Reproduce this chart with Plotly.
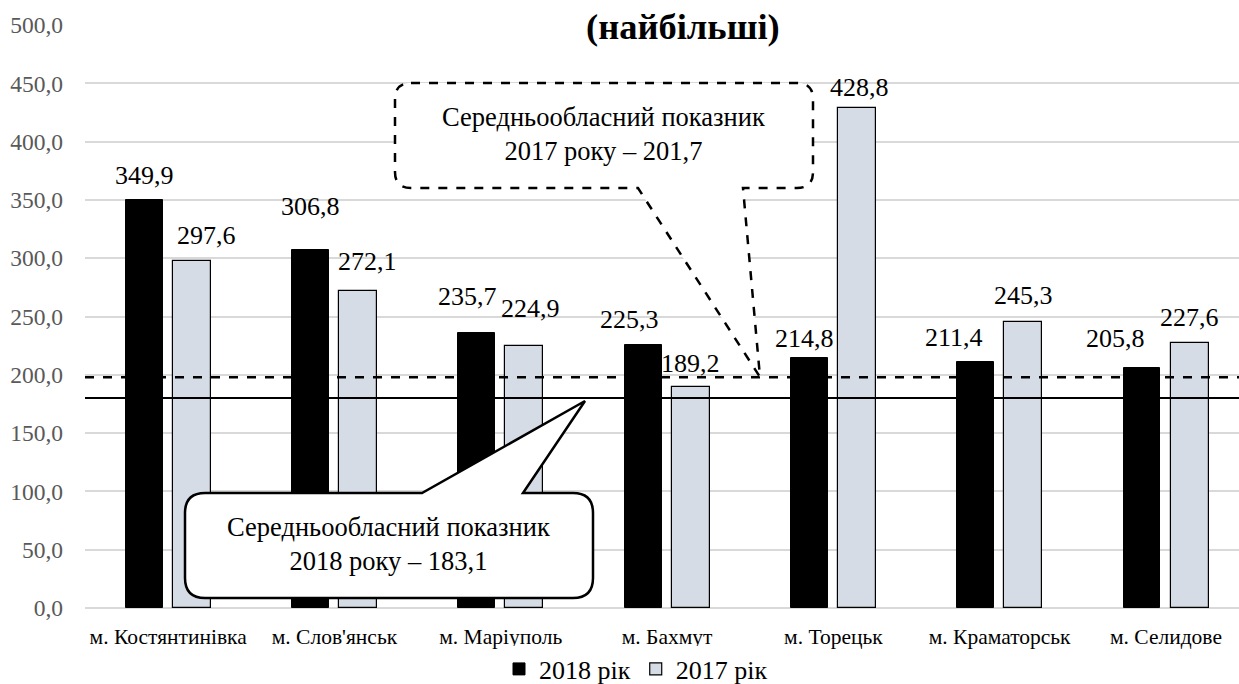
import plotly.graph_objects as go

# ---- data ----
categories = ["м. Костянтинівка", "м. Слов'янськ", "м. Маріуполь", "м. Бахмут",
              "м. Торецьк", "м. Краматорськ", "м. Селидове"]
values_2018 = [349.9, 306.8, 235.7, 225.3, 214.8, 211.4, 205.8]
values_2017 = [297.6, 272.1, 224.9, 189.2, 428.8, 245.3, 227.6]
series_names = ["2018 рік", "2017 рік"]
avg_line_2017 = 198.0   # dashed line as drawn
avg_line_2018 = 180.0   # solid line as drawn
callout_2017 = "Середньообласний показник<br>2017 року – 201,7"
callout_2018 = "Середньообласний показник<br>2018 року – 183,1"
title_text = "(найбільші)"
y_tickvals = [0, 50, 100, 150, 200, 250, 300, 350, 400, 450, 500]
y_ticktext = ["0,0", "50,0", "100,0", "150,0", "200,0", "250,0", "300,0",
              "350,0", "400,0", "450,0", "500,0"]

# ---- label placement tweaks (px) ----
lab_dx_2018 = [0, 0, -9, -14, -5, -22, -27]
lab_dy_2018 = [25, 44, 37, 26, 19, 24, 30]
lab_dx_2017 = [15, 9, 6, 0, 3, 0, 0]
lab_dy_2017 = [26, 29, 37, 24, 21, 26, 25]

W, H = 1239, 684
ML, MR, MT, MB = 85, 0, 25, 76
PW, PH = W - ML - MR, H - MT - MB
CAT_PX = 166.3
FONT = "Liberation Serif"

def fmt(v):
    return f"{v:.1f}".replace(".", ",")

def px2paper(x, y):
    return (x - ML) / PW, (H - MB - y) / PH

idx = list(range(len(categories)))

fig = go.Figure()
fig.add_trace(go.Bar(
    x=idx, y=values_2018, name=series_names[0],
    width=0.222, offset=-0.255,
    marker=dict(color="black", line=dict(color="black", width=1)),
))
fig.add_trace(go.Bar(
    x=idx, y=values_2017, name=series_names[1],
    width=0.228, offset=0.028,
    marker=dict(color="#d6dce5", line=dict(color="black", width=1.2)),
))

annotations = []
for i, v in enumerate(values_2018):
    annotations.append(dict(
        x=i - 0.144, y=v, xref="x", yref="y", text=fmt(v), showarrow=False,
        xshift=lab_dx_2018[i], yshift=lab_dy_2018[i], yanchor="middle",
        font=dict(family=FONT, size=26, color="black")))
for i, v in enumerate(values_2017):
    annotations.append(dict(
        x=i + 0.142, y=v, xref="x", yref="y", text=fmt(v), showarrow=False,
        xshift=lab_dx_2017[i], yshift=lab_dy_2017[i], yanchor="middle",
        font=dict(family=FONT, size=26, color="black")))

# title
tx, ty = px2paper(683, 27)
annotations.append(dict(x=tx, y=ty, xref="paper", yref="paper", text="<b>" + title_text + "</b>",
                        showarrow=False, xanchor="center", yanchor="middle",
                        font=dict(family=FONT, size=36.5, color="black")))

def callout_path(x0, y0, x1, y1, r, bl, br, tipx, tipy, side):
    def P(x, y):
        a, b = px2paper(x, y)
        return f"{a:.5f},{b:.5f}"
    if side == "bottom":
        d = (f"M{P(x0+r,y0)} L{P(x1-r,y0)} Q{P(x1,y0)} {P(x1,y0+r)} L{P(x1,y1-r)} "
             f"Q{P(x1,y1)} {P(x1-r,y1)} L{P(br,y1)} L{P(tipx,tipy)} L{P(bl,y1)} "
             f"L{P(x0+r,y1)} Q{P(x0,y1)} {P(x0,y1-r)} L{P(x0,y0+r)} Q{P(x0,y0)} {P(x0+r,y0)} Z")
    else:
        d = (f"M{P(x0+r,y0)} L{P(bl,y0)} L{P(tipx,tipy)} L{P(br,y0)} L{P(x1-r,y0)} "
             f"Q{P(x1,y0)} {P(x1,y0+r)} L{P(x1,y1-r)} "
             f"Q{P(x1,y1)} {P(x1-r,y1)} "
             f"L{P(x0+r,y1)} Q{P(x0,y1)} {P(x0,y1-r)} L{P(x0,y0+r)} Q{P(x0,y0)} {P(x0+r,y0)} Z")
    return d

shapes = [
    dict(type="line", xref="paper", x0=0, x1=1, yref="y", y0=avg_line_2017, y1=avg_line_2017,
         line=dict(color="black", width=2.5, dash="dash"), layer="above"),
    dict(type="line", xref="paper", x0=0, x1=1, yref="y", y0=avg_line_2018, y1=avg_line_2018,
         line=dict(color="black", width=2), layer="above"),
    dict(type="path", xref="paper", yref="paper",
         path=callout_path(395, 83, 813, 188, 16, 638, 743, 760, 377, "bottom"),
         fillcolor="white", line=dict(color="black", width=2.5, dash="dash"), layer="above"),
    dict(type="path", xref="paper", yref="paper",
         path=callout_path(185, 493, 593, 598, 20, 422, 523, 585, 401, "top"),
         fillcolor="white", line=dict(color="black", width=2.5), layer="above"),
]

cx, cy = px2paper(603, 134)
annotations.append(dict(x=cx, y=cy, xref="paper", yref="paper", text=callout_2017,
                        showarrow=False, xanchor="center", yanchor="middle", align="center",
                        font=dict(family=FONT, size=26.5, color="black")))
cx, cy = px2paper(388, 544)
annotations.append(dict(x=cx, y=cy, xref="paper", yref="paper", text=callout_2018,
                        showarrow=False, xanchor="center", yanchor="middle", align="center",
                        font=dict(family=FONT, size=26.5, color="black")))

lx, ly = px2paper(636, 669)
fig.update_layout(
    width=W, height=H,
    margin=dict(l=ML, r=MR, t=MT, b=MB, autoexpand=False),
    paper_bgcolor="white", plot_bgcolor="white",
    font=dict(family=FONT, color="black"),
    showlegend=True,
    legend=dict(orientation="h", x=lx, y=ly, xanchor="center", yanchor="middle",
                font=dict(family=FONT, size=26, color="black"), itemwidth=30,
                traceorder="normal"),
    xaxis=dict(range=[-0.5, -0.5 + PW / CAT_PX], tickvals=idx, ticktext=categories,
               showgrid=False, zeroline=False, showline=False, ticks="",
               ticklabelstandoff=13, automargin=False,
               tickfont=dict(family=FONT, size=21.5, color="black")),
    yaxis=dict(range=[0, 500], tickvals=y_tickvals, ticktext=y_ticktext,
               showgrid=True, gridcolor="#d9d9d9", gridwidth=1.5,
               zeroline=True, zerolinecolor="#d9d9d9", zerolinewidth=1.5,
               showline=False, ticks="", ticklabelstandoff=21, automargin=False,
               tickfont=dict(family=FONT, size=23.5, color="#595959")),
    annotations=annotations,
    shapes=shapes,
    bargap=0, barmode="overlay",
)

fig.write_html("out.html")
